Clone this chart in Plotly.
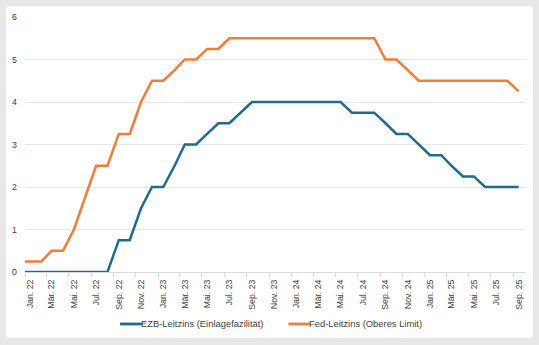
import plotly.graph_objects as go

# ---- data (monthly) ----
months = [f"{y}-{m:02d}" for y in (2022, 2023, 2024, 2025) for m in range(1, 13)][:45]
dates = ["2022-01-01"] + [m + "-15" for m in months]

de_month = ["Jan.", "Feb.", "Mär.", "Apr.", "Mai.", "Jun.", "Jul.", "Aug.", "Sep.", "Okt.", "Nov.", "Dez."]

ezb = [0.0,
       0, 0, 0, 0, 0, 0, 0, 0, 0.75, 0.75, 1.5, 2.0,
       2.0, 2.5, 3.0, 3.0, 3.25, 3.5, 3.5, 3.75, 4.0, 4.0, 4.0, 4.0,
       4.0, 4.0, 4.0, 4.0, 4.0, 3.75, 3.75, 3.75, 3.5, 3.25, 3.25, 3.0,
       2.75, 2.75, 2.5, 2.25, 2.25, 2.0, 2.0, 2.0, 2.0]
fed = [0.25,
       0.25, 0.25, 0.5, 0.5, 1.0, 1.75, 2.5, 2.5, 3.25, 3.25, 4.0, 4.5,
       4.5, 4.75, 5.0, 5.0, 5.25, 5.25, 5.5, 5.5, 5.5, 5.5, 5.5, 5.5,
       5.5, 5.5, 5.5, 5.5, 5.5, 5.5, 5.5, 5.5, 5.0, 5.0, 4.75, 4.5,
       4.5, 4.5, 4.5, 4.5, 4.5, 4.5, 4.5, 4.5, 4.25]

series_names = ["EZB-Leitzins (Einlagefazilität)", "Fed-Leitzins (Oberes Limit)"]

tick_vals = [m + "-15" for m in months[::2]]
tick_text = [f"{de_month[int(m[5:7]) - 1]} {m[2:4]}" for m in months[::2]]
boundary_ticks = [m + "-01" for m in months[::2]]

BLUE = "#216a8b"
ORANGE = "#ef7d3a"
TXT = "#404040"
FONT = "Liberation Sans, Arial, sans-serif"

# plot-area geometry (pixels) for paper-coordinate conversion
L, R, T, B = 20, 13, 12, 73
PW, PH = 539 - L - R, 345 - T - B


def px(x):
    return (x - L) / PW


def py(y):
    return (345 - B - y) / PH


fig = go.Figure()
for name, vals, col in zip(series_names, [ezb, fed], [BLUE, ORANGE]):
    fig.add_trace(go.Scatter(x=dates, y=vals, mode="lines", name=name,
                             line=dict(color=col, width=2.5), showlegend=False))

shapes = [dict(type="rect", xref="paper", yref="paper", layer="below",
               x0=px(1), x1=px(533), y0=py(339), y1=py(1),
               fillcolor="white", line=dict(width=0))]
annotations = []
# manual legend
for name, col, x0 in zip(series_names, [BLUE, ORANGE], [116, 286]):
    shapes.append(dict(type="line", xref="paper", yref="paper",
                       x0=px(x0), x1=px(x0 + 22), y0=py(325), y1=py(325),
                       line=dict(color=col, width=2.8)))
    annotations.append(dict(xref="paper", yref="paper", x=px(x0 + 19), y=py(325),
                            text=name, showarrow=False, xanchor="left", yanchor="middle",
                            font=dict(size=9.4, color=TXT, family=FONT)))

fig.update_layout(
    width=539, height=345,
    margin=dict(l=L, r=R, t=T, b=B),
    paper_bgcolor="#e8e8e8",
    plot_bgcolor="rgba(0,0,0,0)",
    font=dict(family=FONT, size=8.5, color=TXT),
    showlegend=False,
    shapes=shapes,
    annotations=annotations,
)
fig.update_xaxes(
    type="date", range=["2022-01-01", "2025-10-05"],
    tickmode="array", tickvals=tick_vals, ticktext=tick_text, tickangle=-90,
    ticks="", showgrid=False, showline=True, linecolor="#d9d9d9", linewidth=1,
    tickfont=dict(size=8.8, color=TXT), ticklabelstandoff=3,
    minor=dict(tickmode="array", tickvals=boundary_ticks, ticks="outside", ticklen=4,
               tickcolor="#d9d9d9", showgrid=False),
)
fig.update_yaxes(
    range=[0, 6], tickvals=[0, 1, 2, 3, 4, 5, 6], showgrid=True, gridcolor="#e6e6e6",
    gridwidth=1, zeroline=False, ticks="", tickfont=dict(size=8.8, color=TXT),
    ticklabelstandoff=7,
)

fig.write_html("out.html")
